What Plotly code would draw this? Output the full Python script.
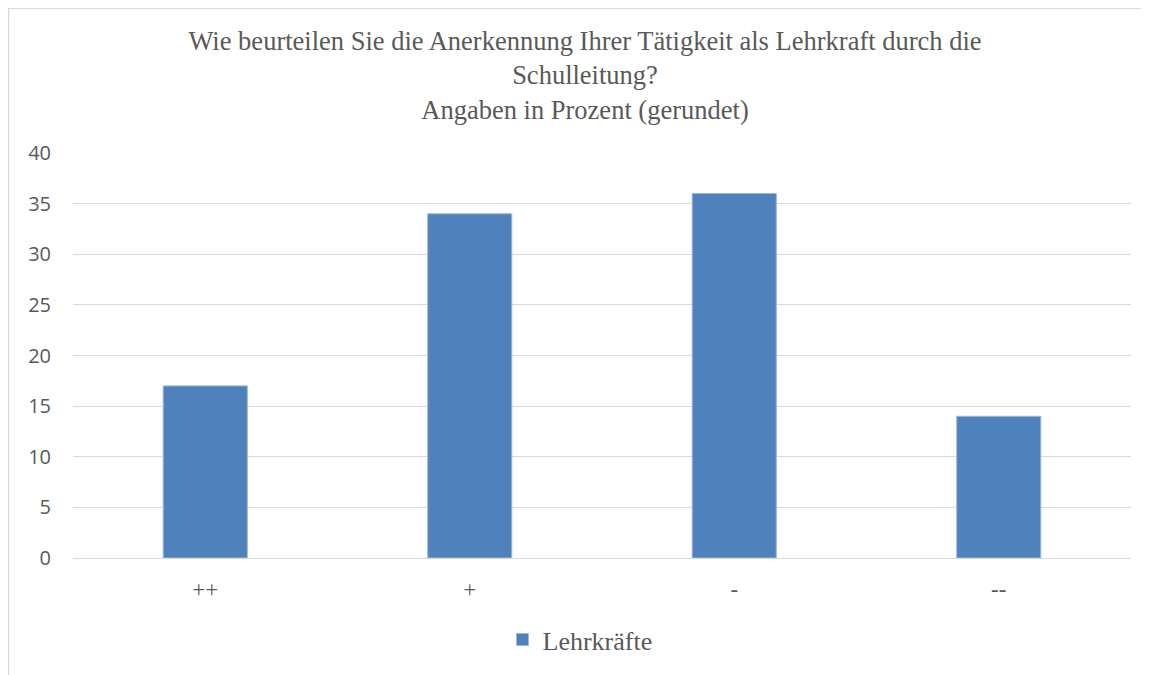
import plotly.graph_objects as go

categories = ["++", "+", "-", "--"]
values = [17, 34, 36, 14]
series_name = "Lehrkräfte"
y_ticks = [0, 5, 10, 15, 20, 25, 30, 35, 40]
title_lines = [
    "Wie beurteilen Sie die Anerkennung Ihrer Tätigkeit als Lehrkraft durch die",
    "Schulleitung?",
    "Angaben in Prozent (gerundet)",
]

OFF = 8  # default body margin of the html page
W, H = 1149 - OFF, 675 - OFF
L = 73 - OFF
T = 153 - OFF
R = W - (1131 - OFF)
B = H - (560 - OFF)
pw, ph = W - L - R, H - T - B

def px_to_paper_x(px_page):
    return (px_page - OFF - L) / pw

def px_to_paper_y(py_page):
    return (H - B - (py_page - OFF)) / ph

fig = go.Figure()
fig.add_trace(go.Bar(
    x=categories, y=values, name=series_name,
    marker=dict(color="#4F81BD", line=dict(color="#9DB7D9", width=1)),
    width=0.318, showlegend=True,
))

fig.update_layout(
    width=W, height=H,
    margin=dict(l=L, r=R, t=T, b=B),
    paper_bgcolor="white", plot_bgcolor="white",
    title=dict(
        text="<br>".join(title_lines),
        x=(585 - OFF) / W, xanchor="center", xref="container",
        y=1 - 42 / H, yanchor="top", yref="container",
        font=dict(family="Liberation Serif", size=26.5, color="#595959"),
    ),
    showlegend=True,
    legend=dict(
        orientation="h", x=px_to_paper_x(580), xanchor="center",
        y=px_to_paper_y(642), yanchor="middle",
        font=dict(family="Liberation Serif", size=26, color="#595959"),
        itemwidth=30,
    ),
)
fig.update_xaxes(
    showgrid=False, showline=False, zeroline=False,
    tickfont=dict(family="Liberation Serif", size=23, color="#595959"),
    ticklabelstandoff=15,
)
fig.update_yaxes(
    range=[0, 40], tickvals=y_ticks,
    showgrid=True, gridcolor="#D9D9D9", gridwidth=1,
    zeroline=True, zerolinecolor="#D9D9D9", zerolinewidth=1,
    showline=False,
    tickfont=dict(family="Open Sans", size=20, color="#595959"),
    ticklabelstandoff=21,
)
fig.add_shape(
    type="rect", xref="paper", yref="paper",
    x0=px_to_paper_x(8.5), x1=px_to_paper_x(1170),
    y0=px_to_paper_y(700), y1=px_to_paper_y(7.5),
    line=dict(color="#D9D9D9", width=1.5), fillcolor="rgba(0,0,0,0)",
    layer="below",
)

fig.write_html("out.html")
